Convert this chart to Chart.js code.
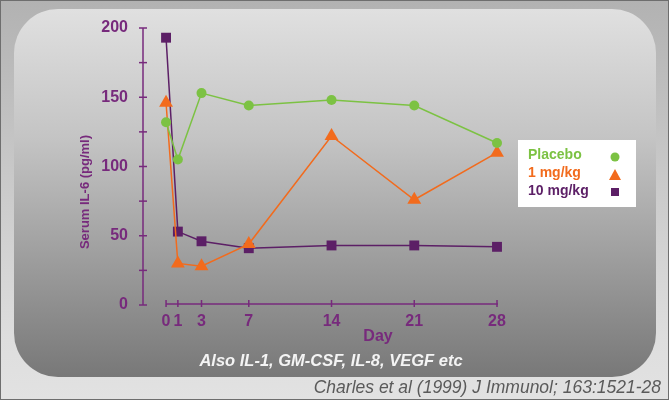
<!DOCTYPE html>
<html>
<head>
<meta charset="utf-8">
<script src="https://cdn.jsdelivr.net/npm/chart.js@4"></script>
<style>
html,body{margin:0;padding:0;background:#c8c8c8;}
#wrap{width:669px;height:400px;position:relative;}
</style>
</head>
<body>
<div id="wrap"><canvas id="c" width="669" height="400"></canvas></div>
<script>
const days = [0, 1, 3, 7, 14, 21, 28];
const xTickLabels = [0, 1, 3, 7, 14, 21, 28];
const yTickValues = [0, 25, 50, 75, 100, 125, 150, 175, 200];
const placebo = [132, 105, 153, 144, 148, 144, 117];
const mg1 = [146, 30, 28, 44, 122, 76, 110];
const mg10 = [193, 53, 46, 41, 43, 43, 42];
const seriesLabels = ['Placebo', '1 mg/kg', '10 mg/kg'];

const PURPLE = '#772a7c';
const GREEN = '#7cc243';
const ORANGE = '#f26b1d';
const DPURPLE = '#5c1f66';
const FONT = '"Liberation Sans", Arial, sans-serif';

function pts(vals){ return days.map((d,i)=>({x:d, y:vals[i]})); }

const bgPlugin = {
  id:'bg',
  beforeDraw(chart){
    const ctx = chart.ctx, W = chart.width, H = chart.height;
    ctx.save();
    let g = ctx.createLinearGradient(0,0,0,H);
    g.addColorStop(0,'#b2b2b2'); g.addColorStop(0.85,'#dedede'); g.addColorStop(1,'#e2e2e2');
    ctx.fillStyle = g; ctx.fillRect(0,0,W,H);
    const x0=14,y0=9,x1=656,y1=377,r=44;
    ctx.beginPath();
    ctx.moveTo(x0+r,y0); ctx.lineTo(x1-r,y0); ctx.arcTo(x1,y0,x1,y0+r,r);
    ctx.lineTo(x1,y1-r); ctx.arcTo(x1,y1,x1-r,y1,r);
    ctx.lineTo(x0+r,y1); ctx.arcTo(x0,y1,x0,y1-r,r);
    ctx.lineTo(x0,y0+r); ctx.arcTo(x0,y0,x0+r,y0,r); ctx.closePath();
    g = ctx.createLinearGradient(0,y0,0,y1);
    g.addColorStop(0,'#e0e0e0'); g.addColorStop(0.35,'#c4c4c4'); g.addColorStop(1,'#787878');
    ctx.fillStyle = g; ctx.fill();
    ctx.strokeStyle = '#6e6e6e'; ctx.lineWidth = 1;
    ctx.strokeRect(0.5,0.5,W-1,H-1);
    ctx.restore();
  },
  beforeDatasetsDraw(chart){
    const ctx = chart.ctx;
    const xs = chart.scales.x, ys = chart.scales.y;
    ctx.save();
    ctx.strokeStyle = PURPLE; ctx.lineWidth = 1.5;
    const ax = chart.chartArea.left;
    ctx.beginPath(); ctx.moveTo(ax, ys.getPixelForValue(200)); ctx.lineTo(ax, ys.getPixelForValue(0)); ctx.stroke();
    yTickValues.forEach(v=>{ const y = ys.getPixelForValue(v); ctx.beginPath(); ctx.moveTo(ax-4,y); ctx.lineTo(ax+4,y); ctx.stroke(); });
    const ay = ys.getPixelForValue(0)-1;
    ctx.beginPath(); ctx.moveTo(xs.getPixelForValue(0), ay); ctx.lineTo(xs.getPixelForValue(28)+1, ay); ctx.stroke();
    xTickLabels.forEach(v=>{ const x = xs.getPixelForValue(v); ctx.beginPath(); ctx.moveTo(x,ay-4); ctx.lineTo(x,ay+3); ctx.stroke(); });
    ctx.restore();
  },
  afterDraw(chart){
    const ctx = chart.ctx;
    ctx.save();
    ctx.fillStyle = PURPLE; ctx.font = 'bold 16px '+FONT; ctx.textAlign='center'; ctx.textBaseline='middle';
    ctx.fillText('Day', 378, 337);
    ctx.save(); ctx.translate(85, 192); ctx.rotate(-Math.PI/2);
    ctx.font = 'bold 13px '+FONT; ctx.fillText('Serum IL-6 (pg/ml)', 0, 0); ctx.restore();
    ctx.fillStyle = '#f4f4f4'; ctx.font = 'italic bold 16.5px '+FONT;
    ctx.fillText('Also IL-1, GM-CSF, IL-8, VEGF etc', 331, 361);
    ctx.fillStyle = '#5a5a5a'; ctx.font = 'italic 17.5px '+FONT; ctx.textAlign='right';
    ctx.fillText('Charles et al (1999) J Immunol; 163:1521-28', 661, 388);
    ctx.fillStyle = '#ffffff'; ctx.fillRect(518,140,118,67);
    const colors = [GREEN, ORANGE, DPURPLE];
    const ly = [155, 173, 191];
    ctx.font = 'bold 14px '+FONT; ctx.textAlign='left';
    chart.data.datasets.forEach((ds,i)=>{
      ctx.fillStyle = colors[i];
      ctx.fillText(ds.label, 528, ly[i]);
    });
    const mx = 615;
    ctx.fillStyle = GREEN; ctx.beginPath(); ctx.arc(mx,157,4.5,0,Math.PI*2); ctx.fill();
    ctx.fillStyle = ORANGE; ctx.beginPath(); ctx.moveTo(mx,169); ctx.lineTo(mx+6,180); ctx.lineTo(mx-6,180); ctx.closePath(); ctx.fill();
    ctx.fillStyle = DPURPLE; ctx.fillRect(mx-4,188,8,8);
    ctx.restore();
  }
};

new Chart(document.getElementById('c'), {
  type:'line',
  data:{
    datasets:[
      {label:seriesLabels[0], data:pts(placebo), borderColor:GREEN, backgroundColor:GREEN, borderWidth:1.5,
       pointStyle:'circle', pointRadius:5, pointBorderWidth:0, tension:0, clip:false},
      {label:seriesLabels[1], data:pts(mg1), borderColor:ORANGE, backgroundColor:ORANGE, borderWidth:1.5,
       pointStyle:'triangle', pointRadius:8, pointBorderWidth:0, tension:0, clip:false},
      {label:seriesLabels[2], data:pts(mg10), borderColor:DPURPLE, backgroundColor:DPURPLE, borderWidth:1.5,
       pointStyle:'rect', pointRadius:7, pointBorderWidth:0, tension:0, clip:false}
    ]
  },
  options:{
    responsive:false, animation:false, devicePixelRatio:1,
    layout:{padding:{left:0, right:172, top:28, bottom:0}},
    plugins:{legend:{display:false}, tooltip:{enabled:false}},
    scales:{
      x:{type:'linear', min:-1.95, max:28,
        afterBuildTicks(s){ s.ticks = xTickLabels.map(v=>({value:v})); },
        afterFit(s){ s.height = 95; },
        grid:{display:false, drawTicks:false}, border:{display:false},
        ticks:{color:PURPLE, font:{family:FONT, size:16, weight:'bold'}, padding:7, maxRotation:0, autoSkip:false}
      },
      y:{type:'linear', min:0, max:200,
        afterBuildTicks(s){ s.ticks = yTickValues.map(v=>({value:v})); },
        afterFit(s){ s.width = 143; },
        grid:{display:false, drawTicks:false}, border:{display:false},
        ticks:{color:PURPLE, font:{family:FONT, size:16, weight:'bold'}, padding:15,
          callback:(v)=> (v % 50 === 0 ? String(v) : '')}
      }
    }
  },
  plugins:[bgPlugin]
});
</script>
</body>
</html>
